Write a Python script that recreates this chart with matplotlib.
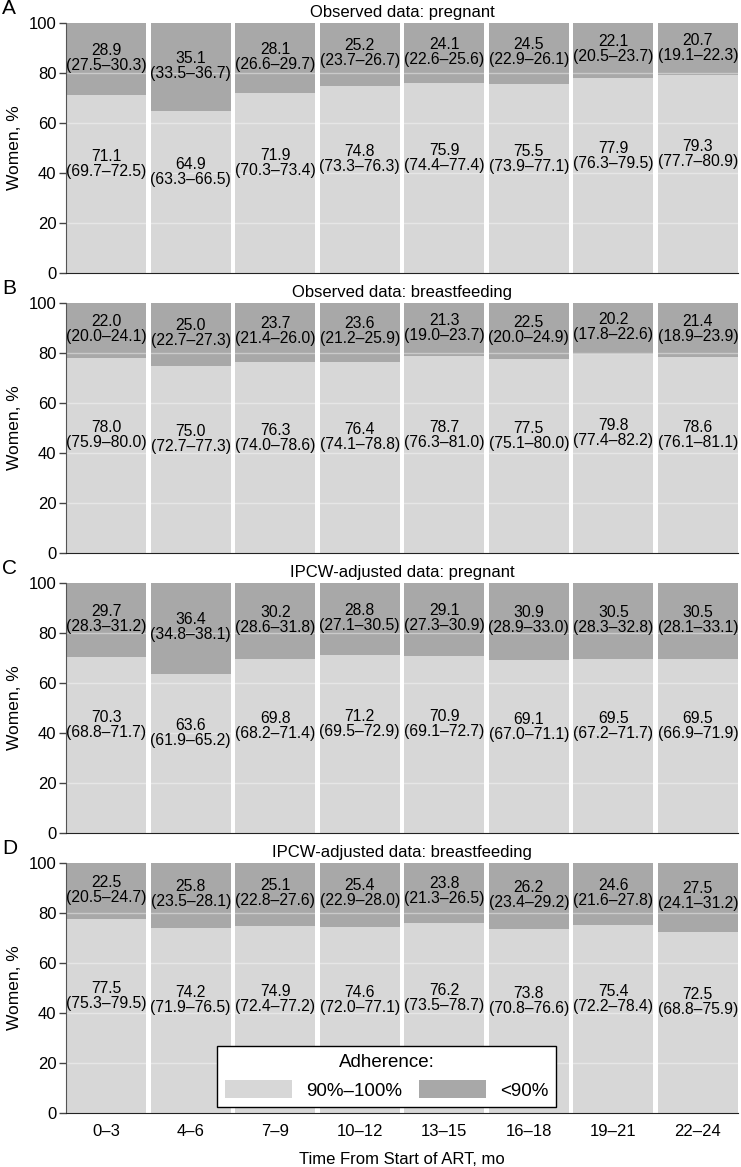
import numpy as np
import matplotlib
matplotlib.use("Agg")
import matplotlib.pyplot as plt
from matplotlib.patches import Patch

plt.rcParams['font.family'] = ['Liberation Sans', 'DejaVu Sans']

periods = ['0\u20133', '4\u20136', '7\u20139', '10\u201312', '13\u201315', '16\u201318', '19\u201321', '22\u201324']
panel_letters = ['A', 'B', 'C', 'D']
panel_titles = ['Observed data: pregnant', 'Observed data: breastfeeding',
                'IPCW-adjusted data: pregnant', 'IPCW-adjusted data: breastfeeding']

# adherence 90%-100%: estimate, lower, upper
high_est = [
    [71.1, 64.9, 71.9, 74.8, 75.9, 75.5, 77.9, 79.3],
    [78.0, 75.0, 76.3, 76.4, 78.7, 77.5, 79.8, 78.6],
    [70.3, 63.6, 69.8, 71.2, 70.9, 69.1, 69.5, 69.5],
    [77.5, 74.2, 74.9, 74.6, 76.2, 73.8, 75.4, 72.5],
]
high_lo = [
    [69.7, 63.3, 70.3, 73.3, 74.4, 73.9, 76.3, 77.7],
    [75.9, 72.7, 74.0, 74.1, 76.3, 75.1, 77.4, 76.1],
    [68.8, 61.9, 68.2, 69.5, 69.1, 67.0, 67.2, 66.9],
    [75.3, 71.9, 72.4, 72.0, 73.5, 70.8, 72.2, 68.8],
]
high_hi = [
    [72.5, 66.5, 73.4, 76.3, 77.4, 77.1, 79.5, 80.9],
    [80.0, 77.3, 78.6, 78.8, 81.0, 80.0, 82.2, 81.1],
    [71.7, 65.2, 71.4, 72.9, 72.7, 71.1, 71.7, 71.9],
    [79.5, 76.5, 77.2, 77.1, 78.7, 76.6, 78.4, 75.9],
]

# adherence <90%: estimate, lower, upper
low_est = [
    [28.9, 35.1, 28.1, 25.2, 24.1, 24.5, 22.1, 20.7],
    [22.0, 25.0, 23.7, 23.6, 21.3, 22.5, 20.2, 21.4],
    [29.7, 36.4, 30.2, 28.8, 29.1, 30.9, 30.5, 30.5],
    [22.5, 25.8, 25.1, 25.4, 23.8, 26.2, 24.6, 27.5],
]
low_lo = [
    [27.5, 33.5, 26.6, 23.7, 22.6, 22.9, 20.5, 19.1],
    [20.0, 22.7, 21.4, 21.2, 19.0, 20.0, 17.8, 18.9],
    [28.3, 34.8, 28.6, 27.1, 27.3, 28.9, 28.3, 28.1],
    [20.5, 23.5, 22.8, 22.9, 21.3, 23.4, 21.6, 24.1],
]
low_hi = [
    [30.3, 36.7, 29.7, 26.7, 25.6, 26.1, 23.7, 22.3],
    [24.1, 27.3, 26.0, 25.9, 23.7, 24.9, 22.6, 23.9],
    [31.2, 38.1, 31.8, 30.5, 30.9, 33.0, 32.8, 33.1],
    [24.7, 28.1, 27.6, 28.0, 26.5, 29.2, 27.8, 31.2],
]

light = '#d7d7d7'
dark = '#a8a8a8'
W, H = 741, 1167

fig = plt.figure(figsize=(W / 100, H / 100), dpi=100)

x = np.arange(len(periods))
width = 0.95
tops = [23, 303, 583, 863]
axh = 250
left, right = 66, 738

for p in range(4):
    ax = fig.add_axes([left / W, 1 - (tops[p] + axh) / H, (right - left) / W, axh / H])
    hi = np.array(high_est[p])
    lo = np.array(low_est[p])
    ax.bar(x, hi, width, color=light, zorder=1)
    ax.bar(x, lo, width, bottom=hi, color=dark, zorder=1)
    for yy in [20, 40, 60, 80]:
        ax.axhline(yy, color='white', lw=1.0, alpha=0.4, zorder=2)
    for i in range(len(periods)):
        ax.text(x[i], hi[i] / 2 + 8, '%.1f\n(%.1f\u2013%.1f)' % (hi[i], high_lo[p][i], high_hi[p][i]),
                ha='center', va='center', fontsize=11.3, linespacing=1.0, zorder=3)
        ax.text(x[i], hi[i] + lo[i] / 2 + 0.5, '%.1f\n(%.1f\u2013%.1f)' % (lo[i], low_lo[p][i], low_hi[p][i]),
                ha='center', va='center', fontsize=11.3, linespacing=1.0, zorder=3)
    ax.set_xlim(-width / 2, len(periods) - 1 + width / 2)
    ax.set_ylim(0, 100)
    ax.set_yticks([0, 20, 40, 60, 80, 100])
    ax.tick_params(axis='y', labelsize=12, length=5, width=1, color='#444444', pad=2)
    ax.tick_params(axis='x', length=0, labelsize=12, pad=8)
    ax.spines['top'].set_visible(False)
    ax.spines['right'].set_visible(False)
    ax.spines['left'].set_color('#555555')
    ax.spines['bottom'].set_color('#222222')
    ax.set_ylabel('Women, %', fontsize=12.5, labelpad=5)
    ax.set_title(panel_titles[p], fontsize=12, pad=4)
    fig.text(2 / W, 1 - (tops[p] - 14) / H, panel_letters[p], fontsize=15, va='center', ha='left')
    if p < 3:
        ax.set_xticks([])
    else:
        ax.set_xticks(x)
        ax.set_xticklabels(periods)
        ax.set_xlabel('Time From Start of ART, mo', fontsize=12, labelpad=9)
        handles = [Patch(facecolor=light, edgecolor='none', label='90%\u2013100%'),
                   Patch(facecolor=dark, edgecolor='none', label='<90%')]
        leg = ax.legend(handles=handles, ncol=2, title='Adherence:', loc='lower left',
                        bbox_to_anchor=((217 - left) / (right - left), (1113 - 1107) / axh),
                        fontsize=13.5, title_fontsize=13.5, fancybox=False,
                        framealpha=1, edgecolor='black', handlelength=3.6, handleheight=1.1,
                        handletextpad=0.75, columnspacing=0.9, borderpad=0.4, borderaxespad=0)
        leg.get_frame().set_linewidth(1.0)
        leg.set_zorder(5)

fig.savefig('out.png', dpi=100)
